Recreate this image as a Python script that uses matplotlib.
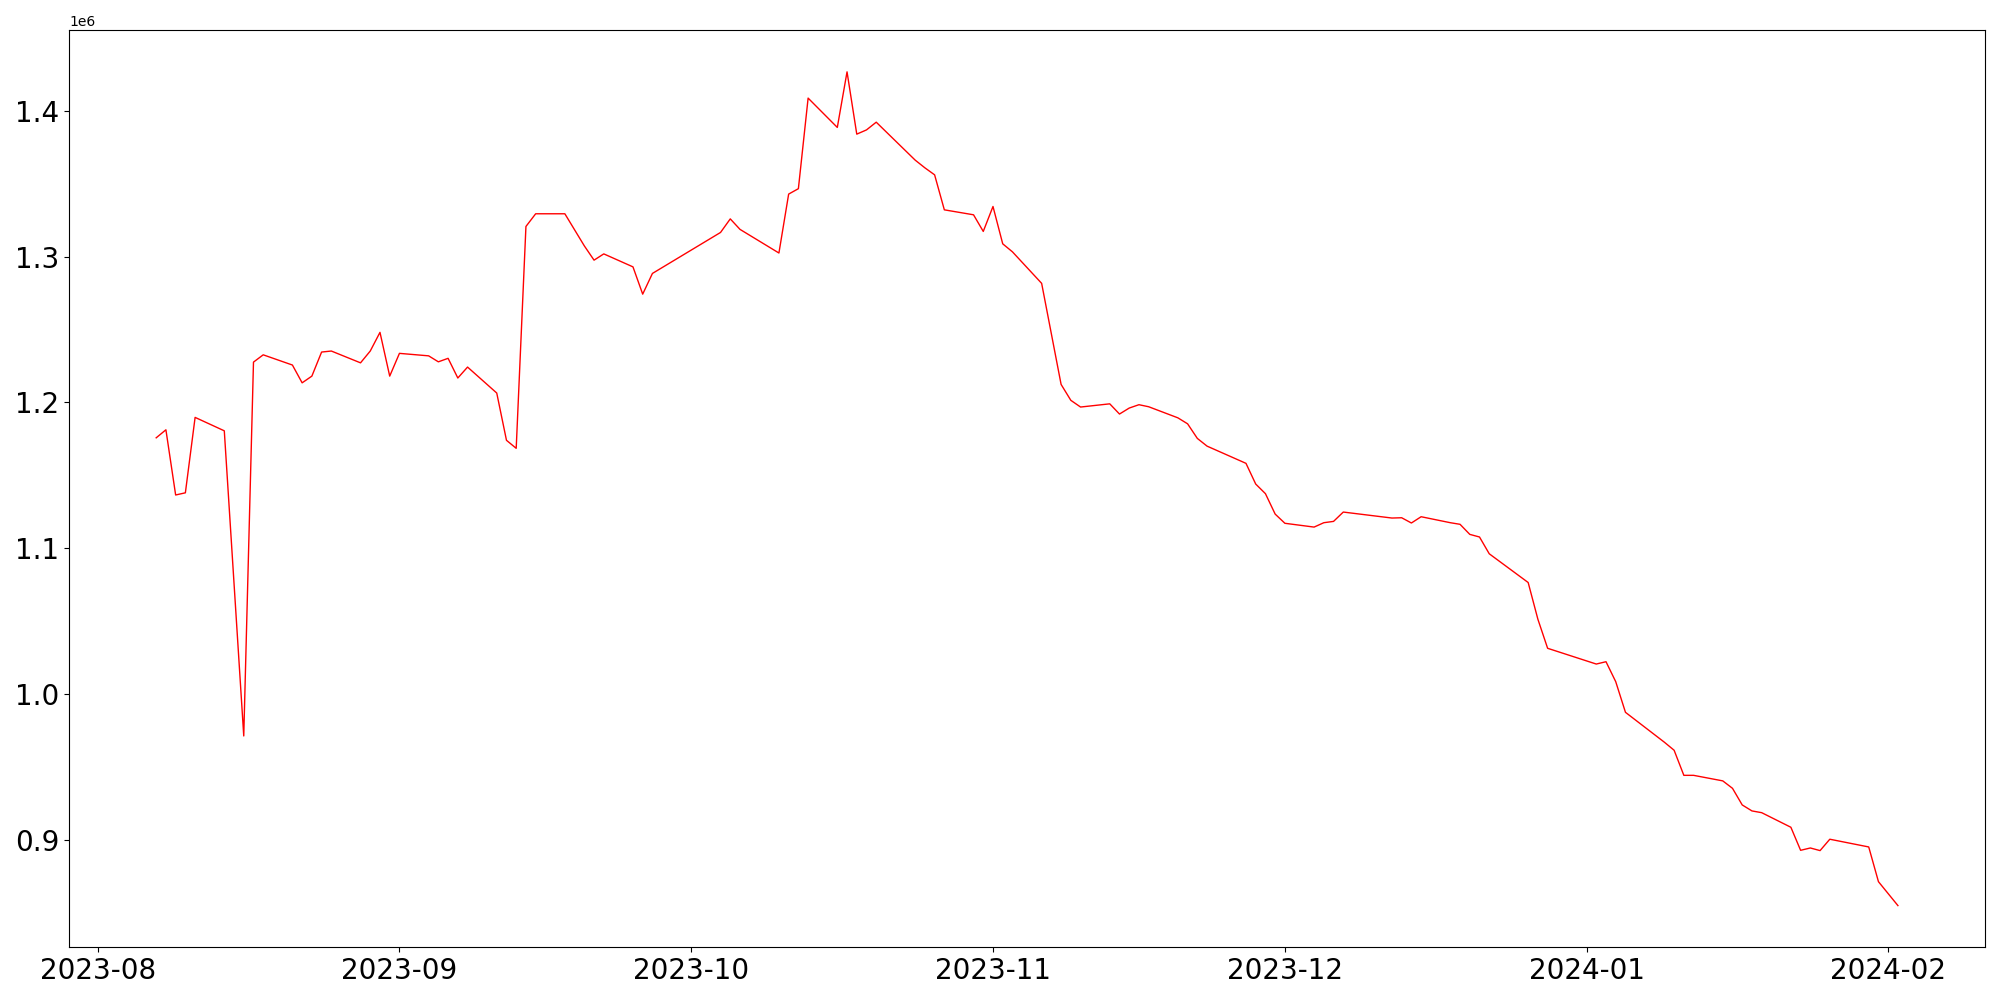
import pandas as pd
import matplotlib
matplotlib.use("Agg")
import matplotlib.pyplot as plt

dates = [
    "2023-08-07", "2023-08-08", "2023-08-09", "2023-08-10", "2023-08-11",
    "2023-08-14", "2023-08-16", "2023-08-17", "2023-08-18",
    "2023-08-21", "2023-08-22", "2023-08-23", "2023-08-24", "2023-08-25",
    "2023-08-28", "2023-08-29", "2023-08-30", "2023-08-31", "2023-09-01",
    "2023-09-04", "2023-09-05", "2023-09-06", "2023-09-07", "2023-09-08",
    "2023-09-11", "2023-09-12", "2023-09-13", "2023-09-14", "2023-09-15",
    "2023-09-18", "2023-09-20", "2023-09-21", "2023-09-22",
    "2023-09-25", "2023-09-26", "2023-09-27",
    "2023-10-04", "2023-10-05", "2023-10-06",
    "2023-10-10", "2023-10-11", "2023-10-12", "2023-10-13",
    "2023-10-16", "2023-10-17", "2023-10-18", "2023-10-19", "2023-10-20",
    "2023-10-24", "2023-10-25", "2023-10-26", "2023-10-27",
    "2023-10-30", "2023-10-31", "2023-11-01", "2023-11-02", "2023-11-03",
    "2023-11-06", "2023-11-08", "2023-11-09", "2023-11-10",
    "2023-11-13", "2023-11-14", "2023-11-15", "2023-11-16", "2023-11-17",
    "2023-11-20", "2023-11-21", "2023-11-22", "2023-11-23",
    "2023-11-27", "2023-11-28", "2023-11-29", "2023-11-30", "2023-12-01",
    "2023-12-04", "2023-12-05", "2023-12-06", "2023-12-07",
    "2023-12-12", "2023-12-13", "2023-12-14", "2023-12-15",
    "2023-12-18", "2023-12-19", "2023-12-20", "2023-12-21", "2023-12-22",
    "2023-12-26", "2023-12-27", "2023-12-28",
    "2024-01-02", "2024-01-03", "2024-01-04", "2024-01-05",
    "2024-01-09", "2024-01-10", "2024-01-11", "2024-01-12",
    "2024-01-15", "2024-01-16", "2024-01-17", "2024-01-18", "2024-01-19",
    "2024-01-22", "2024-01-23", "2024-01-24", "2024-01-25", "2024-01-26",
    "2024-01-30", "2024-01-31", "2024-02-02",
]

# values in millions
values_m = [
    1.1757, 1.1812, 1.1365, 1.1380, 1.1897,
    1.1805, 0.9713, 1.2276, 1.2326,
    1.2256, 1.2134, 1.2180, 1.2345, 1.2352,
    1.2271, 1.2352, 1.2480, 1.2180, 1.2336,
    1.2319, 1.2278, 1.2302, 1.2167, 1.2242,
    1.2064, 1.1740, 1.1685, 1.3206, 1.3293,
    1.3293, 1.3073, 1.2975, 1.3018,
    1.2929, 1.2742, 1.2884,
    1.3165, 1.3258, 1.3186,
    1.3024, 1.3428, 1.3465, 1.4086,
    1.3885, 1.4266, 1.3839, 1.3868, 1.3921,
    1.3661, 1.3608, 1.3560, 1.3320,
    1.3286, 1.3172, 1.3343, 1.3087, 1.3032,
    1.2816, 1.2123, 1.2014, 1.1968,
    1.1990, 1.1920, 1.1961, 1.1984, 1.1970,
    1.1894, 1.1853, 1.1753, 1.1700,
    1.1582, 1.1440, 1.1374, 1.1234, 1.1171,
    1.1145, 1.1175, 1.1184, 1.1248,
    1.1207, 1.1209, 1.1173, 1.1216,
    1.1175, 1.1164, 1.1095, 1.1077, 1.0962,
    1.0765, 1.0513, 1.0314,
    1.0206, 1.0222, 1.0085, 0.9875,
    0.9670, 0.9615, 0.9443, 0.9443,
    0.9405, 0.9354, 0.9240, 0.9199, 0.9187,
    0.9087, 0.8929, 0.8945, 0.8927, 0.9005,
    0.8952, 0.8714, 0.8550,
]

x = pd.to_datetime(dates)
y = [v * 1e6 for v in values_m]

plt.figure(figsize=(20, 10), dpi=100)
plt.plot(x, y, color="red", linewidth=1)
plt.xticks(fontsize=20)
plt.yticks(fontsize=20)
plt.tight_layout()
plt.savefig("out.png")
